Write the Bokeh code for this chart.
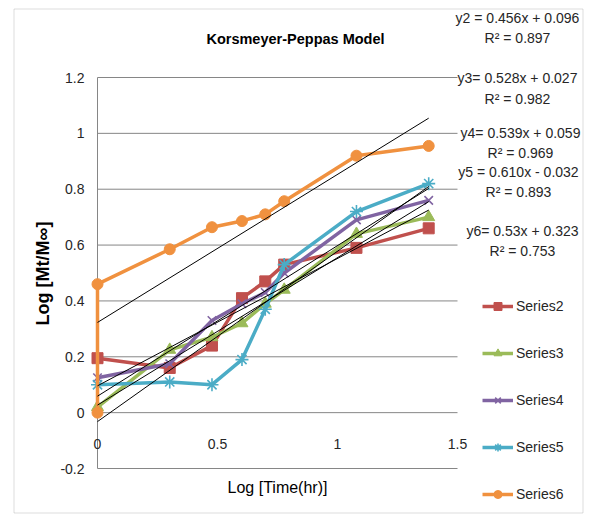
import math

from bokeh.plotting import figure
from bokeh.models import Legend, LegendItem, BoxAnnotation, Range1d
from bokeh.core.properties import value
from bokeh.embed import file_html
from bokeh.resources import INLINE

# ---- data -------------------------------------------------------------
log_time = [0.0, 0.301, 0.477, 0.602, 0.699, 0.778, 1.079, 1.380]
series2 = [0.195, 0.16, 0.24, 0.41, 0.47, 0.53, 0.59, 0.66]
series3 = [0.02, 0.225, 0.27, 0.32, 0.39, 0.44, 0.64, 0.70]
series4 = [0.125, 0.175, 0.33, 0.39, 0.43, 0.50, 0.69, 0.76]
series5 = [0.10, 0.11, 0.10, 0.19, 0.37, 0.53, 0.72, 0.82]
log_time6 = [0.0, 0.0, 0.301, 0.477, 0.602, 0.699, 0.778, 1.079, 1.380]
series6 = [0.0, 0.46, 0.585, 0.664, 0.686, 0.71, 0.757, 0.92, 0.955]

series_names = ["Series2", "Series3", "Series4", "Series5", "Series6"]

# linear trendlines y = slope*x + intercept
slopes = [0.456, 0.528, 0.539, 0.610, 0.53]
intercepts = [0.096, 0.027, 0.059, -0.032, 0.323]
r_squared = [0.897, 0.982, 0.969, 0.893, 0.753]
eq_texts = ["y2 = 0.456x + 0.096", "y3= 0.528x + 0.027", "y4= 0.539x + 0.059",
            "y5 = 0.610x - 0.032", "y6= 0.53x + 0.323"]

x_ticks = [0, 0.5, 1, 1.5]
x_tick_labels = ["0", "0.5", "1", "1.5"]
y_ticks = [-0.2, 0, 0.2, 0.4, 0.6, 0.8, 1, 1.2]
y_tick_labels = ["-0.2", "0", "0.2", "0.4", "0.6", "0.8", "1", "1.2"]

# ---- styling ----------------------------------------------------------
FONT = "Liberation Sans"
GRID = "#868686"
TXT = "#262626"
colors = ["#C0504D", "#9BBB59", "#8064A2", "#4BACC6", "#F0913F"]
markers = ["square", "triangle", "x", "asterisk", "circle"]
marker_sizes = [11, 12, 12, 13, 11]

W, H = 589, 522
# plot-area box inside the canvas (pixels)
FL, FR, FT, FB = 97, 457, 77, 468
XMIN, XMAX, YMIN, YMAX = 0.0, 1.5, -0.2, 1.2
SX = (FR - FL) / (XMAX - XMIN)
SY = (FB - FT) / (YMAX - YMIN)


def to_data(px, py):
    return XMIN + (px - FL) / SX, YMAX - (py - FT) / SY


# the frame spans the whole canvas so that titles, equations and the
# legend around the plot area can be drawn in data space
x0, y1 = to_data(0, 0)
x1, y0 = to_data(W, H)
p = figure(width=W, height=H, x_range=Range1d(x0, x1), y_range=Range1d(y0, y1),
           x_axis_type=None, y_axis_type=None, output_backend="svg",
           toolbar_location=None, min_border=0)
p.min_border_left = p.min_border_right = p.min_border_top = p.min_border_bottom = 0
p.outline_line_color = None
p.background_fill_color = "white"
p.border_fill_color = "white"
p.xgrid.visible = False
p.ygrid.visible = False


def txt(x, y, s, size, align="center", bold=False, angle=0.0, color=TXT):
    p.text(x=[x], y=[y], text=[s], text_align=align, text_baseline="middle",
           text_font=value(FONT), text_font_size=size, angle=angle,
           text_font_style="bold" if bold else "normal", text_color=color)


# horizontal gridlines and the vertical axis line
p.segment(x0=[XMIN] * len(y_ticks), x1=[XMAX] * len(y_ticks), y0=y_ticks, y1=y_ticks,
          line_color=GRID, line_width=1)
p.segment(x0=[XMIN], x1=[XMIN], y0=[YMIN], y1=[YMAX], line_color=GRID, line_width=1)

# tick labels
lab_x, _ = to_data(84, 0)
for t, lab in zip(y_ticks, y_tick_labels):
    txt(lab_x, t, lab, "14px", align="right")
_, lab_y = to_data(0, 443)
for t, lab in zip(x_ticks, x_tick_labels):
    txt(t, lab_y, lab, "14px")

# axis titles and chart title
ax, ay = to_data(277, 487)
txt(ax, ay, "Log [Time(hr)]", "16px", color="black")
ax, ay = to_data(42, 273)
txt(ax, ay, "Log [Mt/M\u221e]", "18px", bold=True, angle=math.pi / 2, color="black")
ax, ay = to_data(297, 38)
txt(ax, ay, "Korsmeyer-Peppas  Model", "14.5px", bold=True, color="black")

# data series
xs_all = [log_time, log_time, log_time, log_time, log_time6]
ys_all = [series2, series3, series4, series5, series6]
items = []
for xs, ys, c, m, s, name in zip(xs_all, ys_all, colors, markers, marker_sizes, series_names):
    ln = p.line(xs, ys, line_color=c, line_width=3.5, line_join="round")
    kw = dict(marker=m, size=s, fill_color=c, line_color=c)
    if m in ("x", "asterisk"):
        kw["line_width"] = 1.6
    sc = p.scatter(xs, ys, **kw)
    items.append(LegendItem(label=name, renderers=[ln, sc]))

# trendlines over the fitted range
x_lo, x_hi = min(log_time), max(log_time)
for k, b in zip(slopes, intercepts):
    p.line([x_lo, x_hi], [k * x_lo + b, k * x_hi + b], line_color="black", line_width=1)

# trendline equations with their R² values
eq_pos = [(517, 17, 37), (517, 77, 98), (520, 132, 152), (518, 171, 191), (522, 230, 250)]
for (cx, ey, ry), eq, r2 in zip(eq_pos, eq_texts, r_squared):
    ex, eyd = to_data(cx, ey)
    _, ryd = to_data(cx, ry)
    txt(ex, eyd, eq, "14px")
    txt(ex, ryd, f"R\u00b2 = {r2:.3f}", "14px")

# legend to the right of the plot area
legend = Legend(items=items, location=(482, H - 504), orientation="vertical",
                glyph_width=31, glyph_height=20, label_height=20, spacing=27,
                padding=0, margin=0, label_standoff=3,
                label_text_font=FONT, label_text_font_size="14px",
                label_text_color=TXT, label_text_baseline="middle",
                border_line_color=None, background_fill_alpha=0)
p.add_layout(legend)

# chart area border
bl, bt = to_data(13.5, 8.5)
br, bb = to_data(582.5, 512.5)
p.add_layout(BoxAnnotation(left=bl, right=br, top=bt, bottom=bb, fill_alpha=0,
                           line_color="#8c8c8c", line_width=1))

open("out.html", "w").write(file_html(p, INLINE))
